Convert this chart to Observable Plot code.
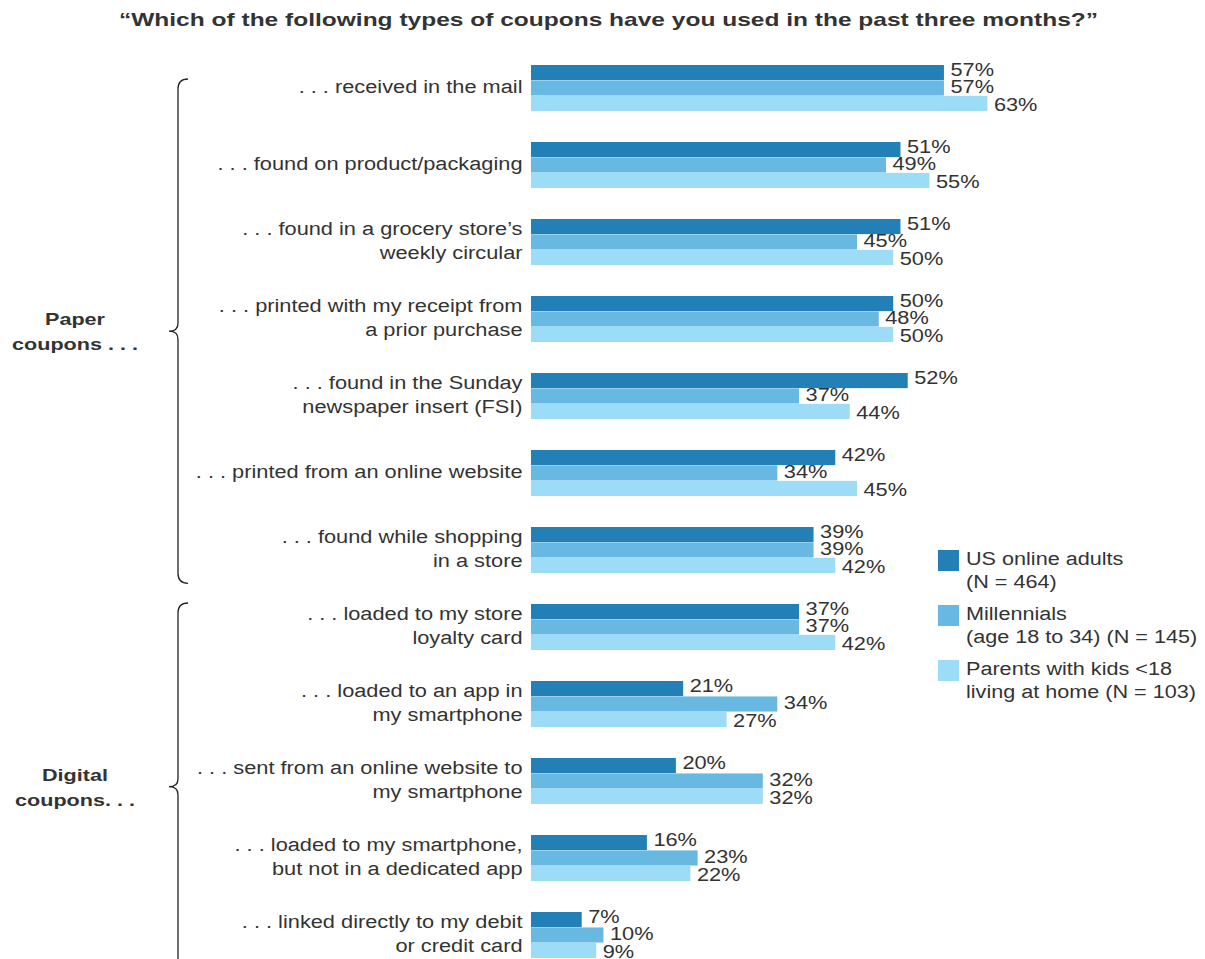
<!DOCTYPE html>
<html>
<head>
<meta charset="utf-8">
<script src="https://cdn.jsdelivr.net/npm/d3@7"></script>
<script src="https://cdn.jsdelivr.net/npm/@observablehq/plot@0.6"></script>
<style>
  html, body { margin: 0; padding: 0; background: #fff; }
  body { width: 1205px; height: 959px; overflow: hidden; position: relative;
         font-family: "Liberation Sans", Arial, Helvetica, sans-serif; color: #333; }
  #title { height: 45px; line-height: 40px; text-align: center; font-weight: bold;
           font-size: 19px; color: #333; padding-left: 11px; }
  #title span { display: inline-block; transform: scaleX(1.29); transform-origin: 50% 50%; }
  #legend { position: absolute; left: 938px; top: 548px; font-size: 18px; color: #333; }
  .item { position: relative; height: 55px; }
  .sw { position: absolute; left: 0; top: 2px; width: 21px; height: 21px; }
  .lbl { position: absolute; left: 28px; top: 0; line-height: 23px; white-space: nowrap;
         transform: scaleX(1.2); transform-origin: 0 50%; }
</style>
</head>
<body>
<div id="title"><span>“Which of the following types of coupons have you used in the past three months?”</span></div>
<div id="chart"></div>
<div id="legend"></div>
<script>
// ---- data ----
const categories = [
  ". . . received in the mail",
  ". . . found on product/packaging",
  ". . . found in a grocery store’s\nweekly circular",
  ". . . printed with my receipt from\na prior purchase",
  ". . . found in the Sunday\nnewspaper insert (FSI)",
  ". . . printed from an online website",
  ". . . found while shopping\nin a store",
  ". . . loaded to my store\nloyalty card",
  ". . . loaded to an app in\nmy smartphone",
  ". . . sent from an online website to\nmy smartphone",
  ". . . loaded to my smartphone,\nbut not in a dedicated app",
  ". . . linked directly to my debit\nor credit card"
];
const seriesNames = [
  "US online adults\n(N = 464)",
  "Millennials\n(age 18 to 34) (N = 145)",
  "Parents with kids <18\nliving at home (N = 103)"
];
const usOnlineAdults = [57, 51, 51, 50, 52, 42, 39, 37, 21, 20, 16, 7];
const millennials    = [57, 49, 45, 48, 37, 34, 39, 37, 34, 32, 23, 10];
const parents        = [63, 55, 50, 50, 44, 45, 42, 42, 27, 32, 22, 9];
const seriesColors = ["#2280b6", "#67b9e1", "#9cdcf6"];
const groups = [
  {name: "Paper\ncoupons . . .", from: 0, to: 6},
  {name: "Digital\ncoupons. . .", from: 7, to: 11}
];

// ---- build ----
const seriesValues = [usOnlineAdults, millennials, parents];
const height = 914, marginTop = 19, marginBottom = 0, paddingInner = 0.4;
const step = (height - marginTop - marginBottom) / (categories.length - paddingInner);
const bw = step * (1 - paddingInner);
const bh = bw / 3;

const marks = [];
seriesValues.forEach((vals, j) => {
  const data = categories.map((c, i) => ({category: c, value: vals[i]}));
  marks.push(Plot.barX(data, {
    x: "value", y: "category", fill: seriesColors[j],
    insetTop: j * bh, insetBottom: (2 - j) * bh
  }));
  marks.push(Plot.text(data, {
    x: "value", y: "category", text: d => d.value + "%",
    dx: 6, dy: (j - 1) * 17.5 - 1, textAnchor: "start", fill: "#333", fontSize: 18
  }));
});
marks.push(Plot.axisY({tickSize: 0, tickPadding: 9, fontSize: 18, fill: "#333",
  lineHeight: 1.33, label: null, dy: -3}));

const plot = Plot.plot({
  width: 1205, height, marginTop, marginBottom, marginLeft: 531, marginRight: 22,
  style: {fontFamily: '"Liberation Sans", Arial, Helvetica, sans-serif', fontSize: "18px", color: "#333", overflow: "visible"},
  x: {domain: [0, 90], axis: null},
  y: {domain: categories, paddingInner, paddingOuter: 0, axis: null},
  marks
});
document.getElementById("chart").appendChild(plot);

// the reference's lettering is horizontally wide: stretch each text about its anchor
d3.select(plot).selectAll("text").each(function() {
  const t = this.getAttribute("transform") || "";
  this.setAttribute("transform", (t + " scale(1.21,1)").trim());
});

// braces and group labels, positioned with Plot's y scale
const ys = plot.scale("y");
const svg = d3.select(plot);
const bx = 178, tipX = 169;
groups.forEach((g, k) => {
  const top = ys.apply(categories[g.from]) + (k === 0 ? 14 : -1);
  const bottom = ys.apply(categories[g.to]) + bw + (k === 0 ? 10 : 12);
  const tip = (top + bottom) / 2;
  const r = 10;
  const d = `M${bx + 10},${top} Q${bx},${top} ${bx},${top + r} L${bx},${tip - 8} Q${bx},${tip} ${tipX},${tip} ` +
            `Q${bx},${tip} ${bx},${tip + 8} L${bx},${bottom - r} Q${bx},${bottom} ${bx + 10},${bottom}`;
  svg.append("path").attr("d", d).attr("fill", "none").attr("stroke", "#222").attr("stroke-width", 1.3);
  const t = svg.append("text").attr("text-anchor", "middle").attr("font-weight", "bold")
    .attr("font-size", 17).attr("fill", "#333")
    .attr("transform", `translate(75,${tip - 12}) scale(1.27,1)`);
  g.name.split("\n").forEach((line, li) => {
    t.append("tspan").attr("x", 0).attr("y", li * 25).attr("dy", "0.35em").text(line);
  });
});

// legend
const legend = document.getElementById("legend");
seriesNames.forEach((name, j) => {
  const item = document.createElement("div");
  item.className = "item";
  const sw = document.createElement("div");
  sw.className = "sw"; sw.style.background = seriesColors[j];
  const lbl = document.createElement("div");
  lbl.className = "lbl"; lbl.innerHTML = name.split("\n").map(s => s.replace(/</g, "&lt;")).join("<br>");
  item.appendChild(sw); item.appendChild(lbl);
  legend.appendChild(item);
});
</script>
</body>
</html>
